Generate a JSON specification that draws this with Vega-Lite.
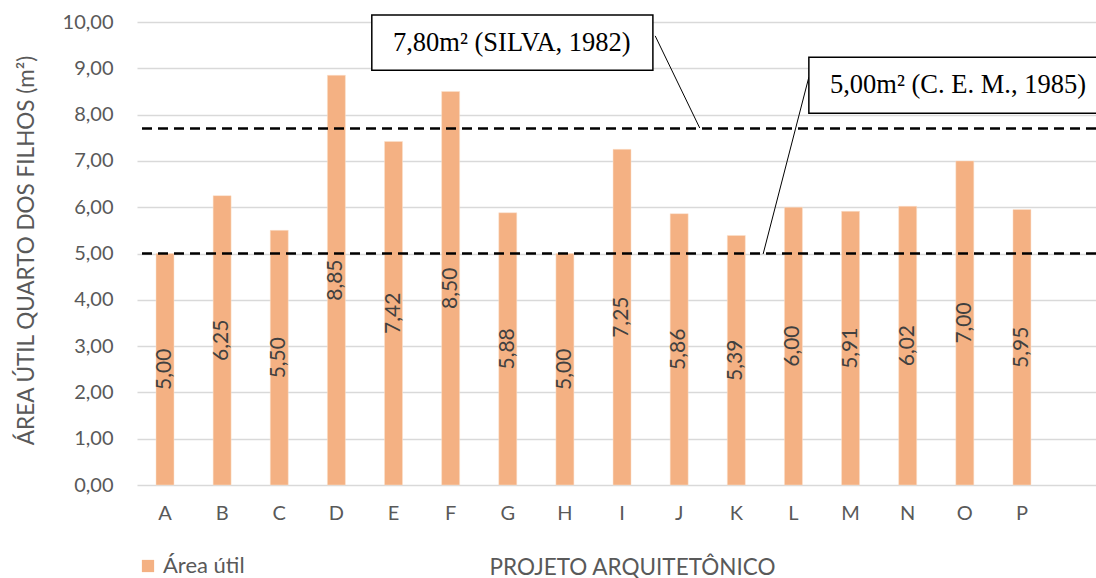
{
  "$schema": "https://vega.github.io/schema/vega-lite/v6.json",
  "autosize": "none",
  "width": 959,
  "height": 463,
  "padding": {"left": 137, "top": 22, "right": 0, "bottom": 93},
  "background": "white",
  "config": {
    "locale": {"number": {"decimal": ",", "thousands": ".", "grouping": [3], "currency": ["", ""]}},
    "view": {"stroke": null},
    "font": "Lato"
  },
  "datasets": {
    "projetos": [
      {"projeto": "A", "area": 5.00},
      {"projeto": "B", "area": 6.25},
      {"projeto": "C", "area": 5.50},
      {"projeto": "D", "area": 8.85},
      {"projeto": "E", "area": 7.42},
      {"projeto": "F", "area": 8.50},
      {"projeto": "G", "area": 5.88},
      {"projeto": "H", "area": 5.00},
      {"projeto": "I", "area": 7.25},
      {"projeto": "J", "area": 5.86},
      {"projeto": "K", "area": 5.39},
      {"projeto": "L", "area": 6.00},
      {"projeto": "M", "area": 5.91},
      {"projeto": "N", "area": 6.02},
      {"projeto": "O", "area": 7.00},
      {"projeto": "P", "area": 5.95}
    ]
  },
  "layer": [
    {
      "data": {"name": "projetos"},
      "mark": {"type": "bar", "stroke": "#FBE2CF", "strokeWidth": 0.5},
      "encoding": {
        "x": {
          "field": "projeto", "type": "nominal", "sort": null,
          "scale": {"type": "band", "paddingInner": 0.685, "paddingOuter": 0.7355, "align": 0.226},
          "axis": {
            "title": "PROJETO ARQUITETÔNICO",
            "labelAngle": 0, "labelFont": "Lato", "labelFontSize": 20, "labelColor": "#595959",
            "labelPadding": 18, "ticks": false, "domain": false,
            "titleFont": "Lato", "titleFontSize": 22.5, "titleFontWeight": "normal", "titleColor": "#595959",
            "titleX": 495, "titleY": 89, "titleBaseline": "alphabetic", "titleAlign": "center"
          }
        },
        "y": {
          "field": "area", "type": "quantitative",
          "scale": {"domain": [0, 10], "nice": false},
          "axis": {
            "title": "ÁREA ÚTIL QUARTO DOS FILHOS (m²)",
            "values": [0, 1, 2, 3, 4, 5, 6, 7, 8, 9, 10],
            "format": ".2f",
            "labelFont": "Lato", "labelFontSize": 20, "labelColor": "#595959",
            "labelPadding": 24, "ticks": false, "domain": false,
            "grid": true, "gridColor": "#D9D9D9", "gridWidth": 1.3,
            "titleFont": "Lato", "titleFontSize": 22.5, "titleFontWeight": "normal", "titleColor": "#595959",
            "titleX": -104, "titleY": 228, "titleBaseline": "alphabetic", "titleAngle": 270, "titleAlign": "center"
          }
        },
        "color": {
          "datum": "Área útil",
          "scale": {"range": ["#F4B183"]},
          "legend": {
            "title": null, "orient": "none", "legendX": 0, "legendY": 533,
            "symbolType": "square", "symbolSize": 150, "symbolStrokeWidth": 0,
            "labelFont": "Lato", "labelFontSize": 22, "labelColor": "#595959", "labelOffset": 4
          }
        }
      }
    },
    {
      "data": {"name": "projetos"},
      "mark": {"type": "text", "angle": 270, "align": "center", "baseline": "middle", "font": "Lato", "fontSize": 21, "color": "#404040"},
      "encoding": {
        "x": {
          "field": "projeto", "type": "nominal", "sort": null,
          "scale": {"type": "band", "paddingInner": 0.685, "paddingOuter": 0.7355, "align": 0.226},
          "axis": null
        },
        "y": {"field": "area", "type": "quantitative", "scale": {"domain": [0, 20], "nice": false}, "axis": null},
        "text": {"field": "area", "type": "quantitative", "format": ".2f"}
      }
    },
    {
      "data": {"values": [{"limite": 7.7}, {"limite": 5.0}]},
      "mark": {"type": "rule", "color": "black", "strokeWidth": 2.5, "strokeDash": [10, 6]},
      "encoding": {"y": {"field": "limite", "type": "quantitative", "scale": {"domain": [0, 10], "nice": false}, "axis": null}}
    },
    {
      "data": {"values": [
        {"x": 8.58, "y": 9.70, "x2": 9.36, "y2": 7.71},
        {"x": 11.27, "y": 8.81, "x2": 10.47, "y2": 4.99}
      ]},
      "mark": {"type": "rule", "color": "black", "strokeWidth": 1},
      "encoding": {
        "x": {"field": "x", "type": "quantitative", "scale": {"domain": [-0.49, 16.296], "nice": false, "zero": false}, "axis": null},
        "x2": {"field": "x2"},
        "y": {"field": "y", "type": "quantitative", "scale": {"domain": [0, 10], "nice": false}, "axis": null},
        "y2": {"field": "y2"}
      }
    },
    {
      "data": {"values": [
        {"x": 3.62, "x2": 8.54, "y": 10.15, "y2": 8.96},
        {"x": 11.27, "x2": 16.8, "y": 9.24, "y2": 8.03}
      ]},
      "mark": {"type": "rect", "fill": "white", "stroke": "black", "strokeWidth": 1.5},
      "encoding": {
        "x": {"field": "x", "type": "quantitative", "scale": {"domain": [-0.49, 16.296], "nice": false, "zero": false}, "axis": null},
        "x2": {"field": "x2"},
        "y": {"field": "y", "type": "quantitative", "scale": {"domain": [0, 10], "nice": false}, "axis": null},
        "y2": {"field": "y2"}
      }
    },
    {
      "data": {"values": [
        {"x": 6.07, "y": 9.55, "rotulo": "7,80m² (SILVA, 1982)"},
        {"x": 13.88, "y": 8.64, "rotulo": "5,00m² (C. E. M., 1985)"}
      ]},
      "mark": {"type": "text", "font": "Liberation Serif", "fontSize": 26.5, "color": "black", "align": "center", "baseline": "middle"},
      "encoding": {
        "x": {"field": "x", "type": "quantitative", "scale": {"domain": [-0.49, 16.296], "nice": false, "zero": false}, "axis": null},
        "y": {"field": "y", "type": "quantitative", "scale": {"domain": [0, 10], "nice": false}, "axis": null},
        "text": {"field": "rotulo"}
      }
    }
  ],
  "resolve": {"scale": {"x": "independent", "y": "independent"}, "axis": {"x": "independent", "y": "independent"}}
}
